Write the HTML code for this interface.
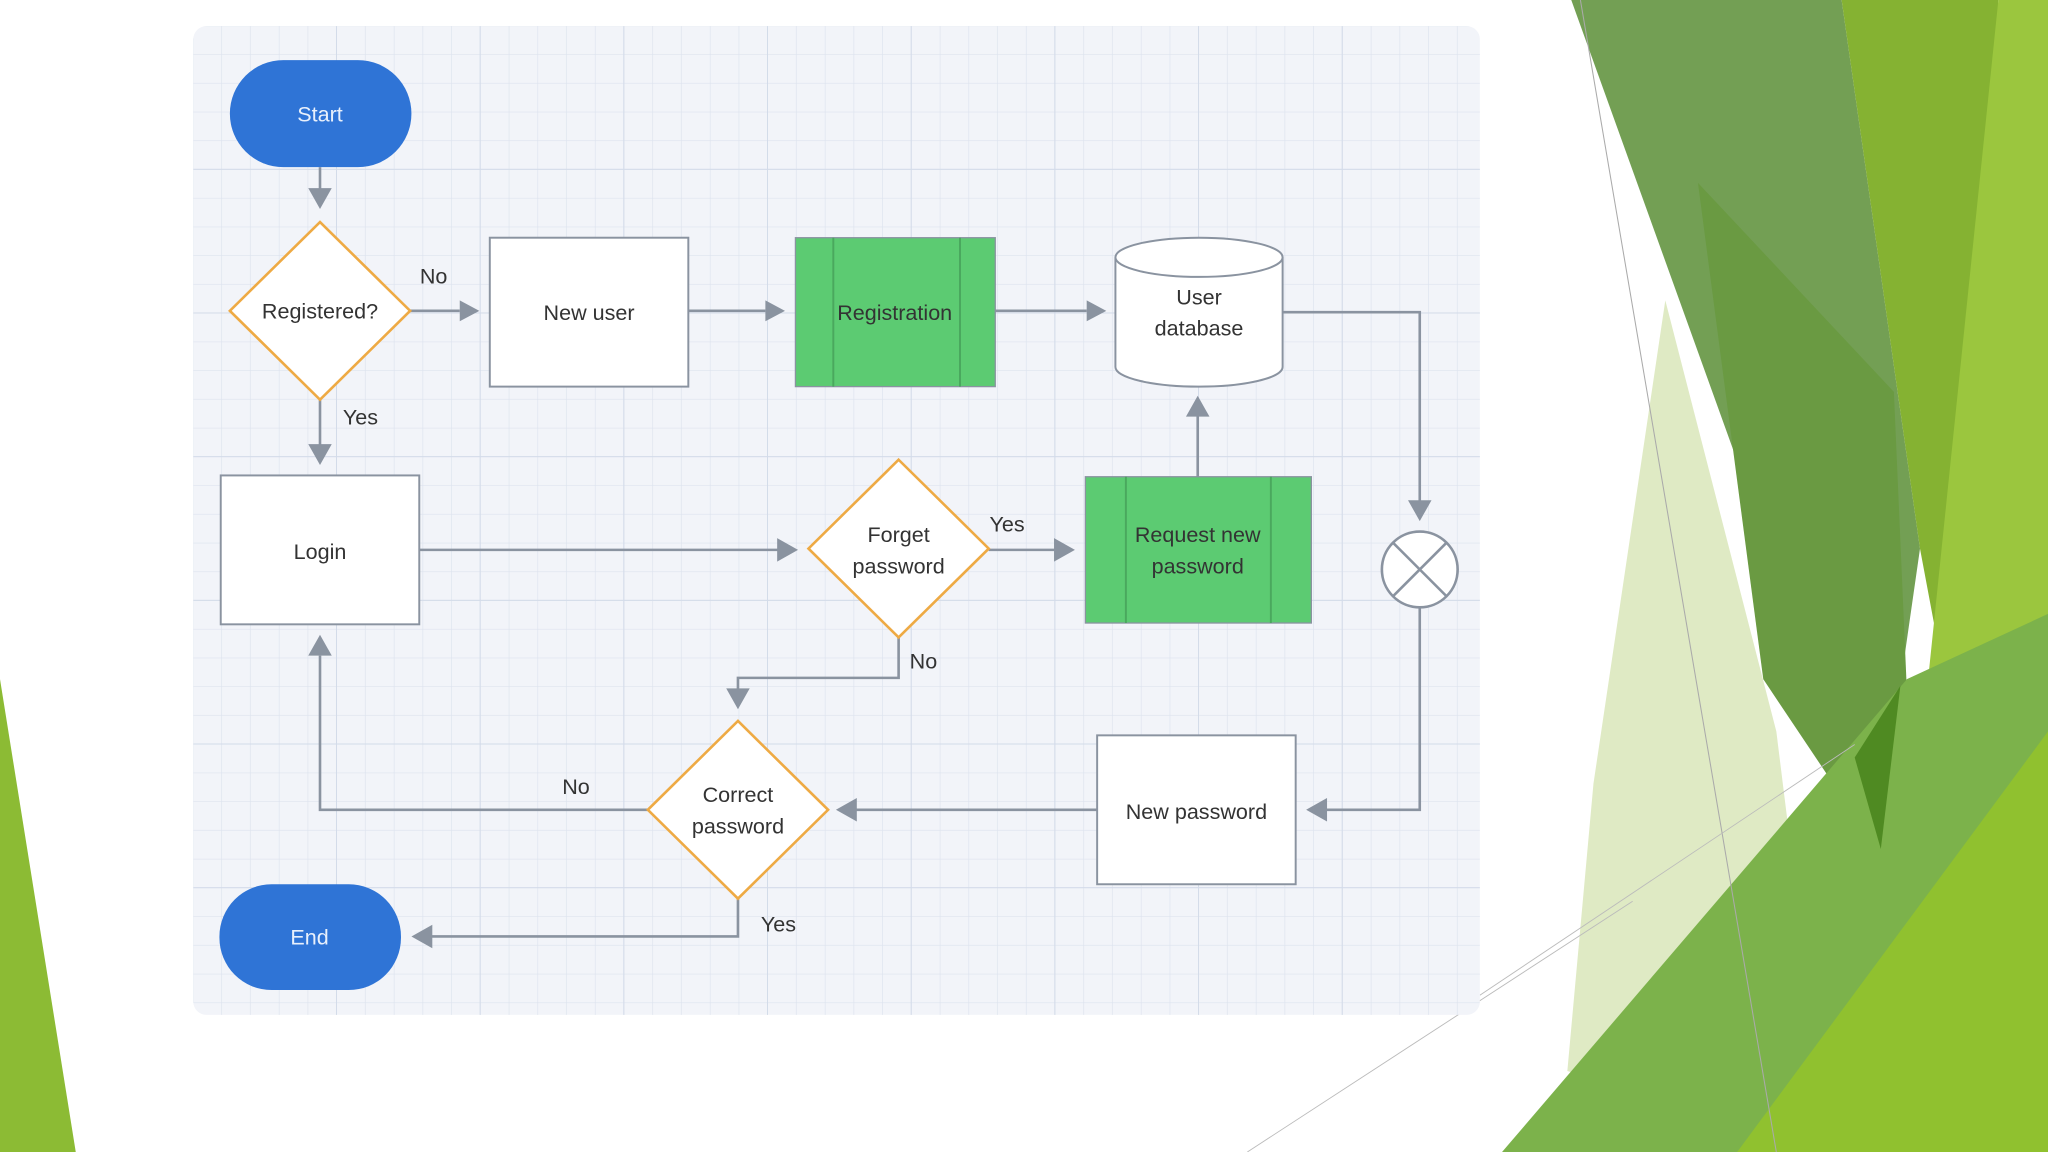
<!DOCTYPE html>
<html><head><meta charset="utf-8"><style>
html,body{margin:0;padding:0;background:#fff;width:2048px;height:1152px;overflow:hidden}
svg{display:block}
text{font-family:"Liberation Sans",sans-serif;font-size:16.5px;fill:#333;text-anchor:middle}
</style></head><body>
<svg width="2048" height="1152" viewBox="0 0 1568 882" xmlns="http://www.w3.org/2000/svg">
<defs>
<pattern id="g" x="148" y="20" width="22" height="22" patternUnits="userSpaceOnUse">
<path d="M22 0V22M0 22H22" stroke="#dde3ee" stroke-width="1" fill="none"/>
</pattern>
<pattern id="G" x="148" y="20" width="110" height="110" patternUnits="userSpaceOnUse">
<path d="M110 0V110M0 110H110" stroke="#d3dbe9" stroke-width="1.5" fill="none"/>
</pattern>
</defs>
<rect width="1568" height="882" fill="#fff"/>
<!-- decorations -->
<polygon points="0,520 58,882 0,882" fill="#8cbb34"/>
<polygon points="1275,230 1360,560 1400,882 1200,820 1220,600" fill="#dfeac4"/>
<polygon points="1203,0 1410,0 1470,420 1437,650" fill="#739f54"/>
<polygon points="1300,140 1450,300 1460,530 1437,650 1350,520" fill="#6a9a42"/>
<polygon points="1410,0 1530,0 1500,580 1470,420" fill="#85b232"/>
<polygon points="1530,0 1568,0 1568,882 1400,882 1470,580" fill="#9bc63e"/>
<polygon points="1150,882 1460,520 1568,470 1568,882" fill="#7cb24b"/>
<polygon points="1330,882 1568,560 1568,882" fill="#90c12f"/>
<polygon points="1420,580 1455,525 1440,650" fill="#4f8a22"/>
<line x1="1210" y1="0" x2="1360" y2="882" stroke="#aaa" stroke-width="0.8"/>
<line x1="955" y1="882" x2="1250" y2="690" stroke="#bbb" stroke-width="0.7"/>
<line x1="1133" y1="762" x2="1420" y2="570" stroke="#bbb" stroke-width="0.7"/>
<!-- diagram bg -->
<rect x="148" y="20" width="985" height="757" rx="10" fill="#f2f4f9"/>
<rect x="148" y="20" width="985" height="757" rx="10" fill="url(#g)"/>
<rect x="148" y="20" width="985" height="757" rx="10" fill="url(#G)"/>
<g stroke="#8a93a0" stroke-width="2" fill="none">
<path d="M245 128V148"/>
<path d="M314 238H352"/>
<path d="M527 238H586"/>
<path d="M762 238H832"/>
<path d="M982 239H1087V384"/>
<path d="M1087 465V620H1015"/>
<path d="M840 620H655"/>
<path d="M496 620H245V502"/>
<path d="M565 688V717H330"/>
<path d="M245 306V342"/>
<path d="M321 421H596"/>
<path d="M757 421H808"/>
<path d="M917 365V318"/>
<path d="M688 488V519H565V528"/>
</g>
<g fill="#8a93a0">
<polygon points="236,144 254,144 245,160"/>
<polygon points="352,230 352,246 367,238"/>
<polygon points="586,230 586,246 601,238"/>
<polygon points="832,230 832,246 847,238"/>
<polygon points="1078,383 1096,383 1087,399"/>
<polygon points="1016,611 1016,629 1000,620"/>
<polygon points="656,611 656,629 640,620"/>
<polygon points="236,502 254,502 245,486"/>
<polygon points="331,708 331,726 315,717"/>
<polygon points="236,340 254,340 245,356"/>
<polygon points="595,412 595,430 611,421"/>
<polygon points="807,412 807,430 823,421"/>
<polygon points="908,319 926,319 917,303"/>
<polygon points="556,527 574,527 565,543"/>
</g>
<!-- nodes -->
<rect x="176" y="46" width="139" height="82" rx="41" fill="#2f74d6"/>
<text x="245" y="93" style="fill:#e8f0fc">Start</text>
<rect x="168" y="677" width="139" height="81" rx="40" fill="#2f74d6"/>
<text x="237" y="723" style="fill:#e8f0fc">End</text>
<g fill="#fff" stroke="#eeaa44" stroke-width="2">
<polygon points="245,170 314,238 245,306 176,238"/>
<polygon points="688,352 757,420 688,488 619,420"/>
<polygon points="565,552 634,620 565,688 496,620"/>
</g>
<g stroke="#8a93a0" stroke-width="1.5" fill="#fff">
<rect x="375" y="182" width="152" height="114"/>
<rect x="169" y="364" width="152" height="114"/>
<rect x="840" y="563" width="152" height="114"/>
</g>
<rect x="609" y="182" width="153" height="114" fill="#5ccb72" stroke="#8a93a0" stroke-width="1"/>
<path d="M638 182V296M735 182V296" stroke="#4aa85e" stroke-width="1.5"/>
<rect x="831" y="365" width="173" height="112" fill="#5ccb72" stroke="#8a93a0" stroke-width="1"/>
<path d="M862 365V477M973 365V477" stroke="#4aa85e" stroke-width="1.5"/>
<!-- cylinder -->
<path d="M854 197V281A64 15 0 0 0 982 281V197" fill="#fff" stroke="#8a93a0" stroke-width="1.5"/>
<ellipse cx="918" cy="197" rx="64" ry="15" fill="#fff" stroke="#8a93a0" stroke-width="1.5"/>
<circle cx="1087" cy="436" r="29" fill="#fff" stroke="#8a93a0" stroke-width="2"/>
<path d="M1066.5 415.5L1107.5 456.5M1107.5 415.5L1066.5 456.5" stroke="#8a93a0" stroke-width="2"/>
<text x="245" y="244">Registered?</text>
<text x="451" y="245">New user</text>
<text x="685" y="245">Registration</text>
<text x="918" y="233">User</text>
<text x="918" y="257">database</text>
<text x="245" y="428">Login</text>
<text x="688" y="415">Forget</text>
<text x="688" y="439">password</text>
<text x="917" y="415">Request new</text>
<text x="917" y="439">password</text>
<text x="916" y="627">New password</text>
<text x="565" y="614">Correct</text>
<text x="565" y="638">password</text>
<text x="332" y="217">No</text>
<text x="276" y="325">Yes</text>
<text x="771" y="407">Yes</text>
<text x="707" y="512">No</text>
<text x="441" y="608">No</text>
<text x="596" y="713">Yes</text>
</svg>
</body></html>
